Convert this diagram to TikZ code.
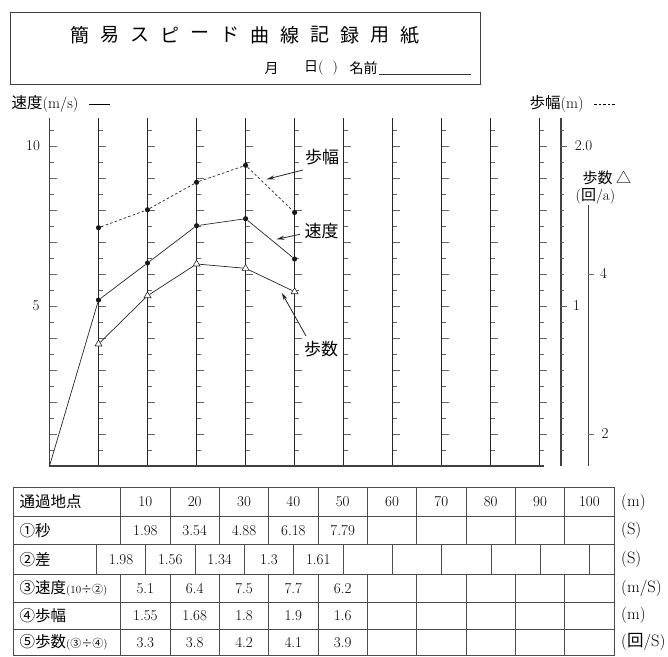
\documentclass[tikz,border=0pt]{standalone}
\usepackage{fontspec}
\newfontfamily\jp{Noto Sans CJK JP}
\usetikzlibrary{arrows.meta,shapes.geometric}
\begin{document}
\begin{tikzpicture}[x=1pt,y=-1pt,
  grid/.style={line width=0.9pt, draw=black!85},
  tk/.style={line width=0.9pt, draw=black!60},
  axisline/.style={line width=1.7pt, draw=black!75},
  dot/.style={circle, fill=black!90, inner sep=0pt, minimum size=5.2pt},
  tri/.style={regular polygon, regular polygon sides=3, draw=black!85, fill=white, line width=0.6pt, inner sep=0pt, minimum size=8pt},
  dat/.style={line width=0.7pt, draw=black!85},
  ann/.style={line width=0.8pt, draw=black!85, -{Stealth[length=8pt,width=4pt]}},
  tbl/.style={line width=0.8pt, draw=black!70},
  num/.style={inner sep=0pt, font=\fontsize{15}{17}\selectfont},
  tnum/.style={inner sep=0pt, font=\fontsize{15}{17}\selectfont},
  jtxt/.style={inner sep=0pt, font=\fontsize{15.5}{17}\selectfont\jp},
  lbl/.style={inner sep=0pt, font=\fontsize{17}{19}\selectfont\jp},
  ttl/.style={inner sep=0pt, font=\fontsize{19}{21}\selectfont\jp},
  unit/.style={inner sep=0pt, anchor=west, font=\fontsize{16.5}{18}\selectfont},
]
\useasboundingbox (0,0) rectangle (668,656);
% ---------- title box ----------
\draw[line width=0.9pt, draw=black!75] (10,12.3) rectangle (480,84);
\foreach \c [count=\n] in {簡,易,ス,ピ,ー,ド,曲,線,記,録,用,紙}
  \node[ttl] (t\n) at ({80.3+30*(\n-1)},35) {\c};
\node[inner sep=0pt, font=\fontsize{14}{16}\selectfont\jp] (month) at (271.7,68.3) {月};
\node[inner sep=0pt, anchor=west, font=\fontsize{14}{16}\selectfont] (day) at (304,68.3) {{\jp 日}(\hspace{9pt})};
\node[inner sep=0pt, anchor=west, font=\fontsize{14}{16}\selectfont\jp] (name) at (349.5,68.3) {名前};
\draw[line width=0.8pt, draw=black!80] (379,74.5) -- (470.7,74.5);
% ---------- axis labels ----------
\node[inner sep=0pt, anchor=west, font=\fontsize{15.5}{17}\selectfont] (vlab) at (11.5,104) {{\jp 速度}(m/s)\hspace{11pt}\rule[4.2pt]{21pt}{0.7pt}};
\node[inner sep=0pt, anchor=west, font=\fontsize{15.5}{17}\selectfont] (slab) at (529.5,104) {{\jp 歩幅}(m)\hspace{10pt}\raisebox{4.2pt}{\tikz\draw[line width=0.6pt,dash pattern=on 2.6pt off 2pt] (0,0)--(21pt,0);}};
\node[inner sep=0pt, anchor=west, font=\fontsize{15}{17}\selectfont\jp] (nlab) at (582.5,177.5) {歩数 △};
\node[inner sep=0pt, anchor=west, font=\fontsize{15}{17}\selectfont] (nunit) at (575.5,196) {({\jp 回}/a)};
% ---------- grid ----------
\foreach \i in {1,...,10}
  \draw[grid] ({49.5+49.02*\i},118) -- ({49.5+49.02*\i},466);
\foreach \i in {0,...,10}{
  \foreach \k in {2,4,...,20} \draw[tk] ({49.5+49.02*\i},{466-16*\k}) -- ++(7,0);
  \foreach \k in {1,3,...,21} \draw[tk] ({49.5+49.02*\i},{466-16*\k}) -- ++(4,0);
}
\draw[axisline] (49.5,118) -- (49.5,466);
\draw[axisline] (48.7,466) -- (544,466);
% step-length axis
\draw[axisline] (560.7,118) -- (560.7,466);
\foreach \k in {1,...,21} \draw[tk] (560.7,{466-16*\k}) -- ++(3.5,0);
\foreach \k in {10,20} \draw[tk] (560.7,{466-16*\k}) -- ++(6,0);
% step-count axis
\draw[axisline, line width=1.4pt] (588.3,205) -- (588.3,466);
\draw[tk] (588.3,274) -- ++(6,0);
\draw[tk] (588.3,434) -- ++(6,0);
% tick labels
\node[tnum] (y10) at (33,145.7) {10};
\node[tnum] (y5) at (36,306) {5};
\node[tnum] (s20) at (583.5,145.7) {2.0};
\node[tnum] (s10) at (576.5,306) {1};
\node[tnum] (n4) at (603.5,273.5) {4};
\node[tnum] (n2) at (605,434) {2};
% ---------- data ----------
\coordinate (v0) at (49.5,466);
\node[dot] (v1) at (98.52,300) {};
\node[dot] (v2) at (147.54,263) {};
\node[dot] (v3) at (196.56,225.7) {};
\node[dot] (v4) at (245.58,218.7) {};
\node[dot] (v5) at (294.6,259) {};
\node[dot] (s1) at (98.52,227.7) {};
\node[dot] (s2) at (147.54,209.7) {};
\node[dot] (s3) at (196.56,182.3) {};
\node[dot] (s4) at (245.58,165.3) {};
\node[dot] (s5) at (294.6,212.5) {};
\node[tri] (c1) at (98.52,344) {};
\node[tri] (c2) at (147.54,295.7) {};
\node[tri] (c3) at (196.56,264) {};
\node[tri] (c4) at (245.58,268.3) {};
\node[tri] (c5) at (294.6,291.7) {};
\draw[dat] (v0) -- (v1) -- (v2) -- (v3) -- (v4) -- (v5);
\draw[dat, dash pattern=on 2.6pt off 2.2pt] (s1) -- (s2) -- (s3) -- (s4) -- (s5);
\draw[dat] (c1) -- (c2) -- (c3) -- (c4) -- (c5);
% ---------- annotations ----------
\node[lbl] (Lstride) at (322,157) {歩幅};
\node[lbl] (Lspeed) at (321.7,231) {速度};
\node[lbl] (Lsteps) at (321,349.5) {歩数};
\coordinate (a1s) at (303,170);   \coordinate (a1e) at (266.5,179.3);
\coordinate (a2s) at (300,234.3); \coordinate (a2e) at (276.5,239.3);
\coordinate (a3s) at (306,336);   \coordinate (a3e) at (281.7,292.7);
\draw[ann] (a1s) -- (a1e);
\draw[ann] (a2s) -- (a2e);
\draw[ann] (a3s) -- (a3e);
% ---------- table ----------
\foreach \y in {487.3,516.7,544.3,574.3,602,629,655.5}
  \draw[tbl] (13.3,\y) -- (614,\y);
\draw[tbl] (13.3,487.3) -- (13.3,655.5);
\draw[tbl] (614,487.3) -- (614,655.5);
\foreach \j in {0,...,9}{
  \draw[tbl] ({120.7+49.33*\j},487.3) -- ({120.7+49.33*\j},544.3);
  \draw[tbl] ({120.7+49.33*\j},574.3) -- ({120.7+49.33*\j},655.5);
}
\foreach \j in {0,...,10}
  \draw[tbl] ({96.3+49.33*\j},544.3) -- ({96.3+49.33*\j},574.3);
% row labels
\node[jtxt, anchor=west] (r1) at (19.5,502) {通過地点};
\node[jtxt, anchor=west] (r2) at (19.5,530.5) {①秒};
\node[jtxt, anchor=west] (r3) at (19.5,559.3) {②差};
\node[jtxt, anchor=west] (r4) at (19.5,588.2) {③速度{\fontsize{11}{12}\selectfont\rmfamily(10{\jp ÷②})}};
\node[jtxt, anchor=west] (r5) at (19.5,615.5) {④歩幅};
\node[jtxt, anchor=west] (r6) at (19.5,642.3) {⑤歩数{\fontsize{11}{12}\selectfont\rmfamily({\jp ③÷④})}};
% values
\foreach \v [count=\j from 0] in {10,20,30,40,50,60,70,80,90,100}
  \node[num] (h\j) at ({120.7+49.33*(\j+0.5)},502) {\v};
\foreach \v [count=\j from 0] in {1.98,3.54,4.88,6.18,7.79}
  \node[num] (sec\j) at ({120.7+49.33*(\j+0.5)},530.5) {\v};
\foreach \v [count=\j from 0] in {1.98,1.56,1.34,1.3,1.61}
  \node[num] (dif\j) at ({96.3+49.33*(\j+0.5)},559.3) {\v};
\foreach \v [count=\j from 0] in {5.1,6.4,7.5,7.7,6.2}
  \node[num] (spd\j) at ({120.7+49.33*(\j+0.5)},588.2) {\v};
\foreach \v [count=\j from 0] in {1.55,1.68,1.8,1.9,1.6}
  \node[num] (str\j) at ({120.7+49.33*(\j+0.5)},615.5) {\v};
\foreach \v [count=\j from 0] in {3.3,3.8,4.2,4.1,3.9}
  \node[num] (stp\j) at ({120.7+49.33*(\j+0.5)},642.3) {\v};
% units
\node[unit] (u1) at (621,502) {(m)};
\node[unit] (u2) at (621,530.5) {(S)};
\node[unit] (u3) at (621,559.3) {(S)};
\node[unit] (u4) at (621,588.2) {(m/S)};
\node[unit] (u5) at (621,615.5) {(m)};
\node[unit] (u6) at (621,642.3) {({\jp 回}/S)};
\end{tikzpicture}
\end{document}
